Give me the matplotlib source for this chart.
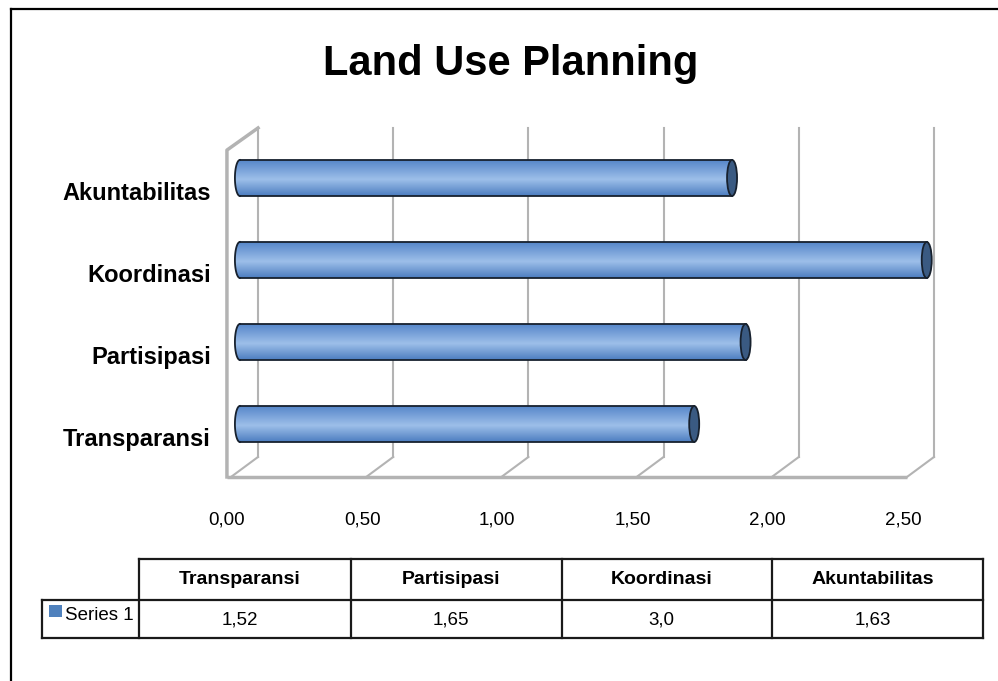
import numpy as np
import matplotlib.pyplot as plt
from matplotlib.patches import Ellipse, Polygon, Rectangle
from matplotlib.lines import Line2D
from matplotlib.colors import LinearSegmentedColormap

plt.rcParams['font.family'] = ['Liberation Sans', 'DejaVu Sans']

# data
title = 'Land Use Planning'
categories = ['Transparansi', 'Partisipasi', 'Koordinasi', 'Akuntabilitas']
bar_values = [1.68, 1.87, 2.54, 1.82]          # bar lengths as drawn
table_values = ['1,52', '1,65', '3,0', '1,63']  # values printed in the data table
series_name = 'Series 1'
x_ticks = [0.0, 0.5, 1.0, 1.5, 2.0, 2.5]

W, H = 998, 681
fig = plt.figure(figsize=(W / 100, H / 100), dpi=100)

# --- main (pseudo 3D) chart ---
ax = fig.add_axes([200 / W, 1 - 490 / H, 760 / W, 380 / H])
ax.axis('off')

dx, dy = 0.10, 0.244          # depth offset of the back wall
y_front = -0.646               # front edge of floor
y_top = 3.61                   # top of back wall
y_side = 3.34                  # top of side wall (front)
x_side = -0.015
grid_c = '#b3b3b3'

for v in x_ticks:
    ax.plot([v, v + dx], [y_front, y_front + dy], color=grid_c, lw=1.5, zorder=1)
    ax.plot([v + dx, v + dx], [y_front + dy, y_top], color=grid_c, lw=1.5, zorder=1)
ax.plot([x_side, x_ticks[-1]], [y_front, y_front], color=grid_c, lw=2.5, zorder=1,
        solid_capstyle='butt')
ax.plot([x_side, x_side, dx], [y_front, y_side, y_top], color=grid_c, lw=2.5, zorder=1)

# cylinders
cmap = LinearSegmentedColormap.from_list(
    'cyl', [(0.0, '#4c7dc0'), (0.45, '#9dbfe9'), (1.0, '#5283c8')])
grad = np.linspace(0, 1, 256).reshape(-1, 1)
xs = 0.033      # bar base offset (depth)
h = 0.44
ew = 0.037
edge = '#17212e'
for i, v in enumerate(bar_values):
    xe = xs + v
    t = np.linspace(np.pi / 2, 3 * np.pi / 2, 40)
    arc_x = xs + ew / 2 * np.cos(t)
    arc_y = i + h / 2 * np.sin(t)
    pts = np.vstack([[[xe, i + h / 2]], np.column_stack([arc_x, arc_y]), [[xe, i - h / 2]]])
    body = Polygon(pts, closed=True, fc='none', ec='none')
    ax.add_patch(body)
    im = ax.imshow(grad, extent=[xs - ew / 2, xe, i - h / 2, i + h / 2], aspect='auto',
                   cmap=cmap, origin='lower', zorder=3, interpolation='bilinear')
    im.set_clip_path(body)
    ax.plot([xe, xs], [i + h / 2, i + h / 2], color=edge, lw=1.3, zorder=4)
    ax.plot([xs, xe], [i - h / 2, i - h / 2], color=edge, lw=1.3, zorder=4)
    ax.plot(arc_x, arc_y, color=edge, lw=1.3, zorder=4)
    ax.add_patch(Ellipse((xe, i), ew, h, fc='#3a5a82', ec=edge, lw=1.3, zorder=5))

    ax.text(-0.074, i - 0.19, categories[i], ha='right', va='center',
            fontsize=17, fontweight='bold', clip_on=False)

for v in x_ticks:
    ax.text(v - 0.015, -1.165, f'{v:.2f}'.replace('.', ','), ha='center', va='center',
            fontsize=13.5, clip_on=False)

ax.set_xlim((200 - 231) / 270.4, (960 - 231) / 270.4)
ax.set_ylim(-0.805, 3.829)

fig.text(511 / W, 1 - 64 / H, title, ha='center', va='center',
         fontsize=30, fontweight='bold')

# --- data table ---
tax = fig.add_axes([42 / W, 1 - 638 / H, 941 / W, 79 / H])
tax.axis('off')
tax.set_xlim(0, 1)
tax.set_ylim(0, 1)
col_edges = [0, 0.1031, 0.3284, 0.5526, 0.7758, 1.0]
row_mid = 0.481
lc = '#1a1a1a'
lw = 1.6
tax.plot([col_edges[1], 1], [1, 1], color=lc, lw=lw, clip_on=False)
tax.plot([0, 1], [row_mid, row_mid], color=lc, lw=lw, clip_on=False)
tax.plot([0, 1], [0, 0], color=lc, lw=lw, clip_on=False)
tax.plot([0, 0], [0, row_mid], color=lc, lw=lw, clip_on=False)
for e in col_edges[1:]:
    tax.plot([e, e], [0, 1], color=lc, lw=lw, clip_on=False)

for k, (cat, val) in enumerate(zip(categories, table_values)):
    cx = (col_edges[k + 1] + col_edges[k + 2]) / 2 - 0.0055
    tax.text(cx, 0.745, cat, ha='center', va='center', fontsize=14, fontweight='bold')
    tax.text(cx, 0.23, val, ha='center', va='center', fontsize=13.5)

tax.add_patch(Rectangle((7 / 941, 21 / 79), 13 / 941, 12 / 79, fc='#4f81bd', ec='none',
                        clip_on=False))
tax.text(23 / 941, 0.29, series_name, ha='left', va='center', fontsize=13.5)

# outer frame (top and left edges visible)
fig.add_artist(Line2D([11 / W, 1], [1 - 8.5 / H, 1 - 8.5 / H], color='black', lw=1.6))
fig.add_artist(Line2D([11 / W, 11 / W], [1 - 8.5 / H, 0], color='black', lw=1.6))

fig.savefig('out.png', dpi=100)
